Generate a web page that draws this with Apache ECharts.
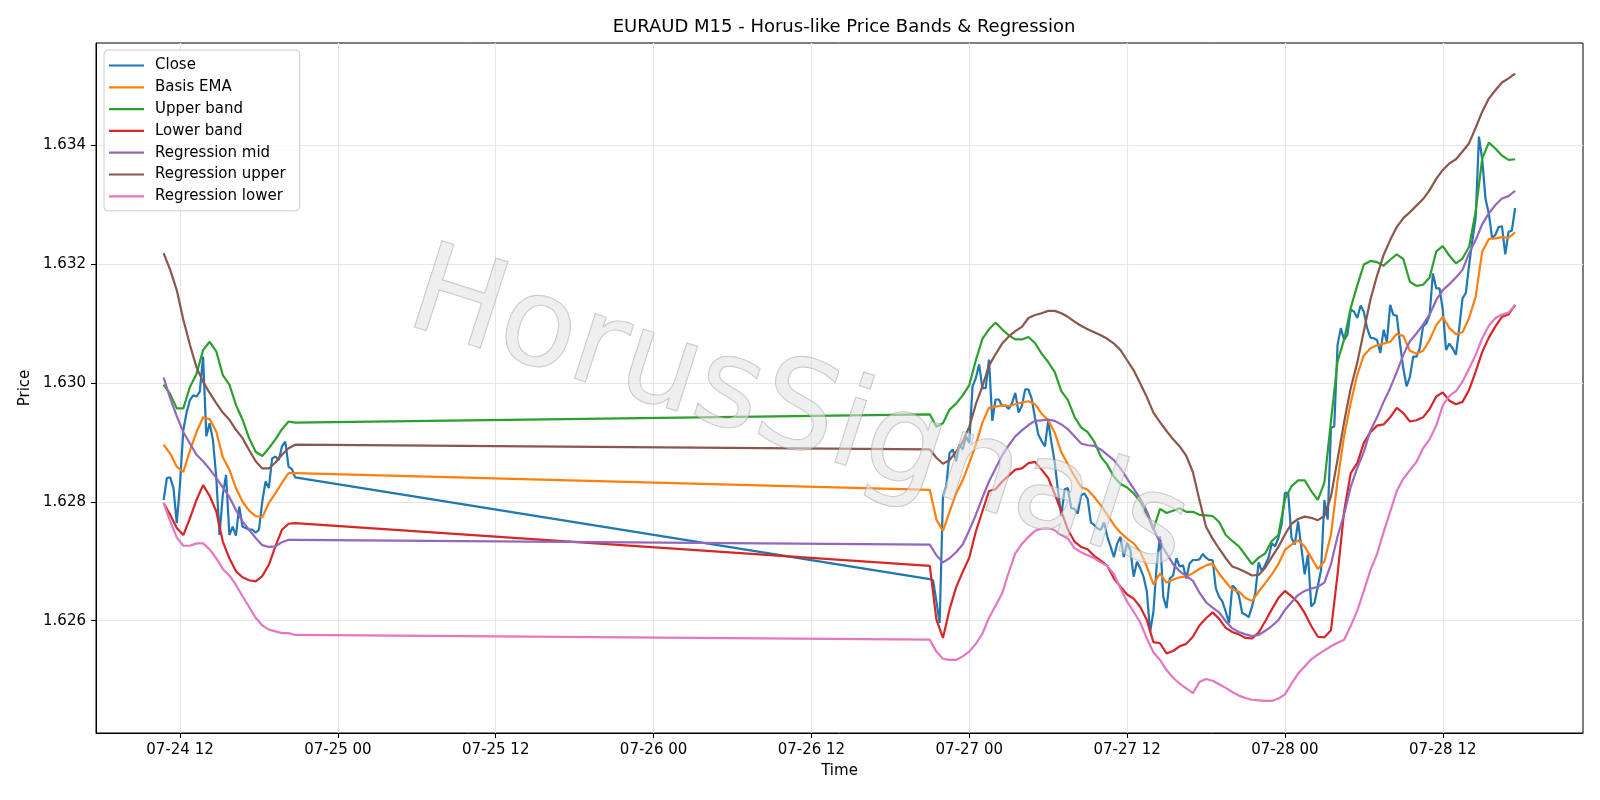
<!DOCTYPE html>
<html>
<head>
<meta charset="utf-8">
<title>EURAUD M15 - Horus-like Price Bands & Regression</title>
<script src="https://cdn.jsdelivr.net/npm/echarts@6/dist/echarts.min.js"></script>
<style>
  html, body { margin: 0; padding: 0; background: #fff; }
  #chart { width: 1600px; height: 800px; }
</style>
</head>
<body>
<div id="chart"></div>
<script>
// two trading sessions (UTC)
const sessionStarts = ['2026-07-24T10:45:00Z', '2026-07-26T21:00:00Z'];

// Close, 15 min bars
const closeA = [
  1.62803, 1.62840, 1.62841, 1.62823, 1.62764, 1.62831, 1.62921, 1.62950, 1.62971, 1.62979,
  1.62977, 1.62985, 1.63044, 1.62910, 1.62932, 1.62904, 1.62842, 1.62744, 1.62812, 1.62845,
  1.62744, 1.62758, 1.62743, 1.62792, 1.62758, 1.62756, 1.62753, 1.62753, 1.62748, 1.62753,
  1.62800, 1.62834, 1.62823, 1.62873, 1.62876, 1.62870, 1.62893, 1.62901, 1.62859, 1.62855,
  1.62841
];
const closeB = [
  1.62670, 1.62668, 1.62633, 1.62596, 1.62809, 1.62826, 1.62882, 1.62888, 1.62868, 1.62896,
  1.62888, 1.62910, 1.62899, 1.62994, 1.63008, 1.63031, 1.62991, 1.62991, 1.63039, 1.62936,
  1.62972, 1.62972, 1.62961, 1.62962, 1.62956, 1.62966, 1.62983, 1.62950, 1.62961, 1.62989,
  1.62989, 1.62973, 1.62941, 1.62913, 1.62902, 1.62893, 1.62936, 1.62899, 1.62866, 1.62818,
  1.62776, 1.62821, 1.62823, 1.62789, 1.62788, 1.62780, 1.62811, 1.62814, 1.62805, 1.62765,
  1.62761, 1.62755, 1.62753, 1.62765, 1.62741, 1.62724, 1.62707, 1.62730, 1.62741, 1.62707,
  1.62730, 1.62719, 1.62674, 1.62699, 1.62688, 1.62674, 1.62649, 1.62581, 1.62615, 1.62693,
  1.62742, 1.62640, 1.62621, 1.62671, 1.62676, 1.62705, 1.62691, 1.62693, 1.62671, 1.62696,
  1.62702, 1.62702, 1.62703, 1.62712, 1.62706, 1.62702, 1.62702, 1.62654, 1.62640, 1.62632,
  1.62615, 1.62596, 1.62659, 1.62654, 1.62642, 1.62613, 1.62610, 1.62606, 1.62624, 1.62647,
  1.62698, 1.62683, 1.62694, 1.62706, 1.62730, 1.62725, 1.62739, 1.62762, 1.62815, 1.62815,
  1.62739, 1.62728, 1.62767, 1.62723, 1.62678, 1.62711, 1.62624, 1.62630, 1.62658, 1.62686,
  1.62803, 1.62770, 1.62924, 1.62927, 1.63064, 1.63092, 1.63072, 1.63081, 1.63123, 1.63120,
  1.63109, 1.63130, 1.63119, 1.63092, 1.63076, 1.63075, 1.63072, 1.63050, 1.63089, 1.63069,
  1.63131, 1.63114, 1.63113, 1.63066, 1.63024, 1.62994, 1.63010, 1.63044, 1.63044, 1.63058,
  1.63095, 1.63100, 1.63114, 1.63184, 1.63159, 1.63159, 1.63123, 1.63055, 1.63066, 1.63058,
  1.63047, 1.63092, 1.63142, 1.63151, 1.63198, 1.63240, 1.63277, 1.63414, 1.63375, 1.63309,
  1.63285, 1.63243, 1.63249, 1.63262, 1.63263, 1.63216, 1.63254, 1.63256, 1.63294
];

// band lines, read every 30 min
const basisA = [1.62896, 1.62881, 1.62859, 1.62850, 1.62886, 1.62917, 1.62942, 1.62939, 1.62918, 1.62875,
  1.62854, 1.62823, 1.62800, 1.62785, 1.62776, 1.62774, 1.62798, 1.62814, 1.62832, 1.62848, 1.62848];
const basisB = [
  1.62820, 1.62770, 1.62751, 1.62783, 1.62814, 1.62836, 1.62865, 1.62896, 1.62933, 1.62958,
  1.62960, 1.62962, 1.62961, 1.62964, 1.62967, 1.62969, 1.62964, 1.62948, 1.62937, 1.62916,
  1.62883, 1.62863, 1.62843, 1.62825, 1.62820, 1.62808, 1.62794, 1.62778, 1.62761, 1.62748,
  1.62738, 1.62730, 1.62716, 1.62691, 1.62661, 1.62679, 1.62664, 1.62669, 1.62673, 1.62674,
  1.62680, 1.62687, 1.62693, 1.62696, 1.62679, 1.62665, 1.62652, 1.62649, 1.62638, 1.62633,
  1.62649, 1.62663, 1.62678, 1.62695, 1.62719, 1.62728, 1.62735, 1.62725, 1.62706, 1.62687,
  1.62700, 1.62745, 1.62835, 1.62911, 1.62966, 1.63014, 1.63046, 1.63058, 1.63063, 1.63066,
  1.63069, 1.63082, 1.63079, 1.63054, 1.63049, 1.63054, 1.63072, 1.63097, 1.63111, 1.63092,
  1.63082, 1.63085, 1.63109, 1.63145, 1.63221, 1.63242, 1.63243, 1.63245, 1.63244, 1.63253
];
const upperA = [1.62997, 1.62981, 1.62957, 1.62957, 1.62993, 1.63015, 1.63055, 1.63069, 1.63053, 1.63013,
  1.62997, 1.62963, 1.62938, 1.62907, 1.62884, 1.62877, 1.62890, 1.62905, 1.62922, 1.62935, 1.62933];
const upperB = [
  1.62947, 1.62926, 1.62932, 1.62955, 1.62965, 1.62979, 1.62996, 1.63038, 1.63074, 1.63090,
  1.63101, 1.63090, 1.63080, 1.63073, 1.63073, 1.63077, 1.63067, 1.63049, 1.63035, 1.63018,
  1.62986, 1.62971, 1.62943, 1.62925, 1.62917, 1.62901, 1.62876, 1.62862, 1.62842, 1.62830,
  1.62824, 1.62814, 1.62800, 1.62780, 1.62753, 1.62788, 1.62781, 1.62785, 1.62789, 1.62783,
  1.62783, 1.62778, 1.62777, 1.62776, 1.62766, 1.62744, 1.62734, 1.62725, 1.62710, 1.62695,
  1.62706, 1.62713, 1.62734, 1.62744, 1.62804, 1.62826, 1.62836, 1.62836, 1.62818, 1.62803,
  1.62832, 1.62936, 1.63036, 1.63073, 1.63126, 1.63164, 1.63199, 1.63205, 1.63203, 1.63197,
  1.63207, 1.63216, 1.63208, 1.63170, 1.63163, 1.63165, 1.63177, 1.63221, 1.63230, 1.63214,
  1.63201, 1.63209, 1.63229, 1.63288, 1.63378, 1.63404, 1.63394, 1.63382, 1.63375, 1.63376
];
const lowerA = [1.62798, 1.62778, 1.62756, 1.62744, 1.62772, 1.62803, 1.62828, 1.62810, 1.62784, 1.62733,
  1.62705, 1.62683, 1.62673, 1.62668, 1.62666, 1.62675, 1.62694, 1.62725, 1.62753, 1.62763, 1.62764];
const lowerB = [
  1.62692, 1.62602, 1.62571, 1.62619, 1.62656, 1.62682, 1.62706, 1.62750, 1.62784, 1.62818,
  1.62821, 1.62834, 1.62844, 1.62854, 1.62856, 1.62865, 1.62867, 1.62854, 1.62840, 1.62813,
  1.62784, 1.62753, 1.62733, 1.62724, 1.62720, 1.62709, 1.62701, 1.62692, 1.62671, 1.62657,
  1.62644, 1.62637, 1.62623, 1.62601, 1.62564, 1.62562, 1.62545, 1.62549, 1.62557, 1.62561,
  1.62573, 1.62592, 1.62604, 1.62614, 1.62603, 1.62588, 1.62581, 1.62577, 1.62571, 1.62570,
  1.62580, 1.62599, 1.62619, 1.62638, 1.62650, 1.62641, 1.62630, 1.62613, 1.62591, 1.62573,
  1.62572, 1.62584, 1.62678, 1.62784, 1.62848, 1.62865, 1.62899, 1.62917, 1.62928, 1.62930,
  1.62942, 1.62958, 1.62949, 1.62935, 1.62937, 1.62942, 1.62956, 1.62977, 1.62984, 1.62970,
  1.62964, 1.62968, 1.62988, 1.63019, 1.63052, 1.63076, 1.63095, 1.63111, 1.63115, 1.63131
];
const regMidA = [1.63009, 1.62974, 1.62944, 1.62917, 1.62898, 1.62879, 1.62868, 1.62855, 1.62840, 1.62824,
  1.62808, 1.62786, 1.62767, 1.62753, 1.62739, 1.62727, 1.62724, 1.62725, 1.62732, 1.62736, 1.62736];
const regMidB = [
  1.62728, 1.62710, 1.62698, 1.62705, 1.62715, 1.62728, 1.62752, 1.62778, 1.62807, 1.62834,
  1.62856, 1.62878, 1.62895, 1.62910, 1.62920, 1.62929, 1.62936, 1.62937, 1.62938, 1.62936,
  1.62930, 1.62922, 1.62910, 1.62898, 1.62895, 1.62894, 1.62888, 1.62879, 1.62870, 1.62856,
  1.62839, 1.62822, 1.62805, 1.62784, 1.62755, 1.62731, 1.62713, 1.62695, 1.62683, 1.62675,
  1.62667, 1.62647, 1.62631, 1.62622, 1.62614, 1.62599, 1.62587, 1.62581, 1.62577, 1.62574,
  1.62576, 1.62583, 1.62591, 1.62601, 1.62618, 1.62631, 1.62643, 1.62650, 1.62654, 1.62657,
  1.62664, 1.62695, 1.62742, 1.62779, 1.62825, 1.62857, 1.62884, 1.62920, 1.62942, 1.62968,
  1.62991, 1.63018, 1.63047, 1.63070, 1.63083, 1.63098, 1.63115, 1.63139, 1.63156, 1.63166,
  1.63177, 1.63190, 1.63218, 1.63240, 1.63267, 1.63285, 1.63299, 1.63310, 1.63314, 1.63323
];
const regUpA = [1.63218, 1.63190, 1.63156, 1.63106, 1.63064, 1.63026, 1.63002, 1.62983, 1.62966, 1.62950,
  1.62938, 1.62921, 1.62907, 1.62887, 1.62868, 1.62856, 1.62856, 1.62866, 1.62879, 1.62890, 1.62896];
const regUpB = [
  1.62888, 1.62874, 1.62864, 1.62870, 1.62884, 1.62901, 1.62926, 1.62964, 1.62994, 1.63029,
  1.63048, 1.63066, 1.63078, 1.63087, 1.63094, 1.63109, 1.63114, 1.63117, 1.63121, 1.63121,
  1.63117, 1.63111, 1.63103, 1.63096, 1.63090, 1.63085, 1.63080, 1.63074, 1.63066, 1.63055,
  1.63038, 1.63021, 1.62999, 1.62976, 1.62950, 1.62934, 1.62919, 1.62905, 1.62893, 1.62877,
  1.62850, 1.62803, 1.62758, 1.62738, 1.62721, 1.62705, 1.62691, 1.62687, 1.62682, 1.62676,
  1.62677, 1.62689, 1.62707, 1.62724, 1.62745, 1.62763, 1.62771, 1.62775, 1.62773, 1.62769,
  1.62776, 1.62809, 1.62871, 1.62934, 1.62991, 1.63034, 1.63087, 1.63140, 1.63180, 1.63215,
  1.63240, 1.63262, 1.63277, 1.63287, 1.63298, 1.63309, 1.63324, 1.63343, 1.63358, 1.63369,
  1.63376, 1.63389, 1.63403, 1.63429, 1.63456, 1.63478, 1.63492, 1.63505, 1.63512, 1.63520
];
const regLowA = [1.62798, 1.62767, 1.62740, 1.62726, 1.62726, 1.62730, 1.62730, 1.62720, 1.62705, 1.62687,
  1.62676, 1.62660, 1.62641, 1.62623, 1.62605, 1.62592, 1.62585, 1.62582, 1.62579, 1.62579, 1.62576];
const regLowB = [
  1.62568, 1.62548, 1.62536, 1.62534, 1.62534, 1.62540, 1.62548, 1.62561, 1.62578, 1.62605,
  1.62625, 1.62646, 1.62681, 1.62713, 1.62729, 1.62741, 1.62751, 1.62755, 1.62756, 1.62752,
  1.62744, 1.62738, 1.62722, 1.62715, 1.62710, 1.62705, 1.62698, 1.62692, 1.62678, 1.62654,
  1.62632, 1.62615, 1.62597, 1.62570, 1.62547, 1.62534, 1.62517, 1.62504, 1.62494, 1.62486,
  1.62478, 1.62497, 1.62502, 1.62499, 1.62493, 1.62487, 1.62480, 1.62474, 1.62470, 1.62467,
  1.62466, 1.62465, 1.62465, 1.62469, 1.62476, 1.62494, 1.62511, 1.62523, 1.62535, 1.62543,
  1.62550, 1.62557, 1.62563, 1.62568, 1.62591, 1.62617, 1.62650, 1.62685, 1.62712, 1.62749,
  1.62783, 1.62818, 1.62839, 1.62853, 1.62867, 1.62890, 1.62905, 1.62928, 1.62962, 1.62978,
  1.62986, 1.63002, 1.63024, 1.63047, 1.63075, 1.63096, 1.63109, 1.63115, 1.63118, 1.63131
];

const xTicks = ['2026-07-24T12:00:00Z', '2026-07-25T00:00:00Z', '2026-07-25T12:00:00Z',
  '2026-07-26T00:00:00Z', '2026-07-26T12:00:00Z', '2026-07-27T00:00:00Z',
  '2026-07-27T12:00:00Z', '2026-07-28T00:00:00Z', '2026-07-28T12:00:00Z'];
const yTicks = [1.626, 1.628, 1.630, 1.632, 1.634];

const HOUR = 3600 * 1000;

// pair values with bar times of both sessions
function toPairs (partA, partB, stepMin) {
  const out = [];
  [partA, partB].forEach(function (vals, s) {
    const t0 = Date.parse(sessionStarts[s]);
    vals.forEach(function (v, i) { out.push([t0 + i * stepMin * 60000, v]); });
  });
  return out;
}

function pad (n) { return (n < 10 ? '0' : '') + n; }
function fmtTime (ms) {
  const d = new Date(ms);
  return pad(d.getUTCMonth() + 1) + '-' + pad(d.getUTCDate()) + ' ' + pad(d.getUTCHours());
}

const day0 = Date.parse('2026-07-24T00:00:00Z');
const font = 'DejaVu Sans';

const lines = [
  ['Close', '#1f77b4', toPairs(closeA, closeB, 15)],
  ['Basis EMA', '#ff7f0e', toPairs(basisA, basisB, 30)],
  ['Upper band', '#2ca02c', toPairs(upperA, upperB, 30)],
  ['Lower band', '#d62728', toPairs(lowerA, lowerB, 30)],
  ['Regression mid', '#9467bd', toPairs(regMidA, regMidB, 30)],
  ['Regression upper', '#8c564b', toPairs(regUpA, regUpB, 30)],
  ['Regression lower', '#e377c2', toPairs(regLowA, regLowB, 30)]
];

const chart = echarts.init(document.getElementById('chart'));

const option = {
  animation: false,
  backgroundColor: '#fff',
  textStyle: { fontFamily: font },
  title: {
    text: 'EURAUD M15 - Horus-like Price Bands & Regression',
    left: 839,
    textAlign: 'center',
    top: 13,
    textStyle: { fontFamily: font, fontSize: 18, fontWeight: 'normal', color: '#000' }
  },
  grid: {
    left: 96, right: 17, top: 43, bottom: 67,
    show: true, borderColor: '#000', borderWidth: 1, backgroundColor: 'transparent'
  },
  legend: {
    orient: 'vertical',
    left: 104,
    top: 50,
    padding: [8, 14, 7, 5],
    icon: 'path://M0,0 L35,0 L35,2.2 L0,2.2 Z',
    itemWidth: 35,
    itemHeight: 14,
    itemGap: 6.8,
    backgroundColor: 'rgba(255,255,255,0.8)',
    borderColor: '#cccccc',
    borderWidth: 1,
    borderRadius: 4,
    textStyle: { fontFamily: font, fontSize: 15, color: '#000', padding: [0, 0, 0, 6] },
    data: lines.map(function (l) { return l[0]; })
  },
  xAxis: {
    type: 'value',
    min: day0 + 5.61 * HOUR,
    max: day0 + 118.66 * HOUR,
    name: 'Time',
    nameLocation: 'middle',
    nameGap: 31,
    nameTextStyle: { fontFamily: font, fontSize: 15, color: '#000' },
    axisLine: { show: true, lineStyle: { color: '#000', width: 1 } },
    axisTick: { show: true, length: 5, lineStyle: { color: '#000' }, customValues: xTicks.map(Date.parse) },
    axisLabel: {
      customValues: xTicks.map(Date.parse),
      formatter: fmtTime,
      margin: 10,
      fontFamily: font, fontSize: 15, color: '#000'
    },
    splitLine: { show: true, lineStyle: { color: '#e6e6e6', width: 1.1 } }
  },
  yAxis: {
    type: 'value',
    min: 1.624111,
    max: 1.635715,
    name: 'Price',
    nameLocation: 'middle',
    nameGap: 62,
    nameTextStyle: { fontFamily: font, fontSize: 15, color: '#000' },
    axisLine: { show: true, lineStyle: { color: '#000', width: 1 } },
    axisTick: { show: true, length: 5, lineStyle: { color: '#000' }, customValues: yTicks },
    axisLabel: {
      customValues: yTicks,
      formatter: function (v) { return v.toFixed(3); },
      margin: 10,
      fontFamily: font, fontSize: 15, color: '#000'
    },
    splitLine: { show: true, lineStyle: { color: '#e6e6e6', width: 1.1 } }
  },
  // semi-transparent watermark over the plot
  graphic: [{
    type: 'text',
    x: 798,
    y: 416,
    rotation: -0.31,
    z: 100,
    silent: true,
    style: {
      text: 'HorusSignals',
      fontFamily: font,
      fontSize: 124,
      align: 'center',
      verticalAlign: 'middle',
      fill: 'rgba(225,225,225,0.55)',
      stroke: 'rgba(150,150,150,0.55)',
      lineWidth: 1.2,
      shadowColor: 'rgba(60,60,60,0.6)',
      shadowOffsetX: 4,
      shadowOffsetY: 4,
      shadowBlur: 1
    }
  }],
  series: lines.map(function (l) {
    return {
      name: l[0],
      type: 'line',
      data: l[2],
      symbol: 'none',
      showSymbol: false,
      lineStyle: { color: l[1], width: 2.2 },
      itemStyle: { color: l[1] },
      emphasis: { disabled: true }
    };
  })
};

chart.setOption(option);
</script>
</body>
</html>
